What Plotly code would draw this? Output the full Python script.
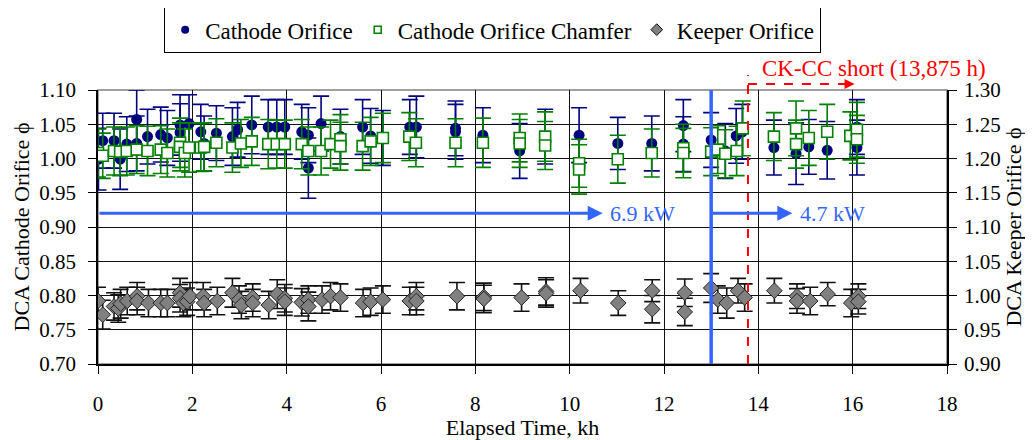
import plotly.graph_objects as go

# ---------------- data ----------------
co_x = [0.01, 0.10, 0.34, 0.47, 0.61, 0.82, 0.82, 1.05, 1.33, 1.47, 1.74, 1.74, 1.93, 2.18, 2.25,
        2.51, 2.85, 2.96, 3.26, 3.61, 3.79, 3.96, 4.32, 4.46, 4.46, 4.73, 5.14, 5.61, 5.78, 6.04,
        6.61, 6.75, 7.58, 7.58, 8.16, 8.94, 9.48, 10.2, 11.02, 11.74, 12.41, 12.41, 13.0, 13.3,
        13.53, 13.66, 14.33, 14.8, 15.07, 15.46, 16.09, 16.09]
co_y = [0.999, 1.026, 1.026, 0.999, 1.021, 1.057, 1.022, 1.032, 1.035, 1.030, 1.049, 1.038, 1.051,
        1.039, 1.022, 1.037, 1.032, 1.042, 1.049, 1.046, 1.046, 1.046, 1.039, 1.034, 0.986, 1.051,
        1.032, 1.046, 1.033, 1.030, 1.046, 1.046, 1.044, 1.039, 1.034, 1.011, 1.032, 1.034, 1.022,
        1.022, 1.048, 1.021, 1.027, 1.011, 1.033, 1.039, 1.016, 1.007, 1.017, 1.012, 1.046, 1.016]
co_e = [0.045, 0.040, 0.040, 0.044, 0.040, 0.043, 0.040, 0.040, 0.040, 0.040, 0.044, 0.042, 0.042,
        0.040, 0.040, 0.040, 0.042, 0.040, 0.042, 0.040, 0.040, 0.040, 0.040, 0.040, 0.044, 0.040,
        0.040, 0.040, 0.040, 0.040, 0.040, 0.045, 0.040, 0.040, 0.040, 0.040, 0.040, 0.040, 0.038,
        0.040, 0.038, 0.040, 0.040, 0.040, 0.040, 0.040, 0.040, 0.045, 0.040, 0.042, 0.040, 0.040]

ch_x = [0.00, 0.10, 0.34, 0.47, 0.61, 0.82, 1.05, 1.33, 1.47, 1.74, 1.74, 1.84, 1.93, 2.18, 2.25,
        2.51, 2.85, 3.03, 3.26, 3.61, 3.79, 3.96, 4.32, 4.46, 4.73, 4.93, 5.14, 5.14, 5.61, 5.78,
        6.04, 6.60, 6.74, 7.58, 8.16, 8.94, 8.94, 9.48, 9.48, 10.2, 10.2, 11.02, 11.74, 12.41,
        12.41, 13.0, 13.14, 13.3, 13.54, 13.67, 14.33, 14.8, 14.8, 15.07, 15.46, 15.95, 16.09, 16.09]
ch_y = [1.008, 1.004, 1.011, 1.010, 1.011, 1.013, 1.011, 1.013, 1.008, 1.023, 1.017, 1.008, 1.016,
        1.016, 1.017, 1.023, 1.016, 1.022, 1.025, 1.021, 1.021, 1.021, 1.021, 1.011, 1.011, 1.021,
        1.028, 1.018, 1.018, 1.025, 1.030, 1.032, 1.023, 1.023, 1.023, 1.030, 1.022, 1.032, 1.019,
        0.993, 0.984, 0.999, 1.008, 1.015, 1.008, 1.010, 1.013, 1.007, 1.011, 1.044, 1.032, 1.044,
        1.021, 1.030, 1.039, 1.033, 1.042, 1.028]
ch_e = [0.035, 0.033, 0.035, 0.035, 0.035, 0.035, 0.036, 0.035, 0.035, 0.036, 0.035, 0.035, 0.036,
        0.035, 0.035, 0.035, 0.036, 0.035, 0.035, 0.036, 0.035, 0.035, 0.036, 0.035, 0.035, 0.035,
        0.036, 0.035, 0.035, 0.035, 0.036, 0.035, 0.035, 0.035, 0.036, 0.035, 0.035, 0.036, 0.035,
        0.035, 0.036, 0.035, 0.035, 0.035, 0.036, 0.035, 0.035, 0.035, 0.036, 0.040, 0.035, 0.040,
        0.035, 0.040, 0.040, 0.035, 0.040, 0.035]

kp_x = [0.00, 0.10, 0.34, 0.43, 0.48, 0.62, 0.83, 0.83, 1.07, 1.33, 1.47, 1.74, 1.74, 1.81, 1.89,
        1.95, 2.23, 2.25, 2.53, 2.85, 2.99, 3.04, 3.28, 3.28, 3.62, 3.80, 3.96, 3.96, 4.32, 4.46,
        4.46, 4.75, 4.93, 5.14, 5.62, 5.78, 6.04, 6.61, 6.75, 6.75, 7.61, 8.18, 8.18, 8.98, 9.50,
        9.50, 10.23, 11.03, 11.75, 11.75, 12.44, 12.44, 13.0, 13.14, 13.33, 13.57, 13.71, 14.34,
        14.82, 14.82, 15.1, 15.47, 15.97, 16.12, 16.12]
kp_y = [0.992, 0.972, 0.984, 0.981, 0.988, 0.992, 0.999, 0.992, 0.989, 0.989, 0.989, 1.004, 0.996,
        0.989, 0.991, 0.999, 0.999, 0.989, 0.992, 1.004, 0.994, 0.986, 0.997, 0.989, 0.986, 1.002,
        0.996, 0.991, 0.990, 0.994, 0.984, 0.994, 0.999, 0.997, 0.989, 0.991, 0.994, 0.992, 0.999,
        0.992, 0.999, 0.998, 0.995, 0.997, 1.006, 1.003, 1.007, 0.989, 1.007, 0.980, 1.004, 0.976,
        1.011, 0.994, 0.989, 1.007, 0.997, 1.007, 0.999, 0.992, 0.992, 1.002, 0.989, 0.999, 0.991]
kp_e = [0.020, 0.021, 0.020, 0.020, 0.021, 0.020, 0.020, 0.020, 0.020, 0.020, 0.020,
        0.021, 0.020, 0.020, 0.020, 0.020, 0.020, 0.020, 0.020, 0.021, 0.020, 0.020, 0.020, 0.020,
        0.020, 0.021, 0.020, 0.020, 0.020, 0.020, 0.021, 0.020, 0.020, 0.020, 0.020, 0.020, 0.020,
        0.020, 0.020, 0.020, 0.020, 0.020, 0.020, 0.020, 0.020, 0.020, 0.018, 0.018, 0.016, 0.020,
        0.020, 0.020, 0.021, 0.020, 0.022, 0.018, 0.020, 0.018, 0.018, 0.018, 0.020, 0.017, 0.020,
        0.018, 0.018]

x_ticks = [0, 2, 4, 6, 8, 10, 12, 14, 16, 18]
yl_ticks = [0.70, 0.75, 0.80, 0.85, 0.90, 0.95, 1.00, 1.05, 1.10]
yr_ticks = [0.90, 0.95, 1.00, 1.05, 1.10, 1.15, 1.20, 1.25, 1.30]

power_y = 0.92
power_switch = 13.0
arrow1_end = 10.7
arrow2_end = 14.72
short_x = 13.78
short_arrow_end = 16.04

FONT = "Liberation Serif, Times New Roman, serif"
NAVY = "#000080"
GREEN = "#008000"
GRAY = "#808080"
BLUE = "#3366FF"
RED = "#FF0000"

fig = go.Figure()

fig.add_trace(go.Scatter(
    x=co_x, y=co_y, mode="markers", name="Cathode Orifice", showlegend=False,
    marker=dict(symbol="circle", size=11, color=NAVY, line=dict(width=0)),
    error_y=dict(type="data", array=co_e, color=NAVY, thickness=1.6, width=8),
))
fig.add_trace(go.Scatter(
    x=ch_x, y=ch_y, mode="markers", name="Cathode Orifice Chamfer", showlegend=False,
    marker=dict(symbol="square", size=11, color="white", line=dict(width=1.6, color=GREEN)),
    error_y=dict(type="data", array=ch_e, color=GREEN, thickness=1.6, width=8),
))
fig.add_trace(go.Scatter(
    x=kp_x, y=kp_y, mode="markers", name="Keeper Orifice", yaxis="y2", showlegend=False,
    marker=dict(symbol="diamond", size=12, color=GRAY, line=dict(width=1, color="#222222")),
    error_y=dict(type="data", array=kp_e, color="#111111", thickness=1.6, width=8),
))

# legend entries (small symbols as in the original legend)
legend_names = ["Cathode Orifice", "Cathode Orifice Chamfer", "Keeper Orifice"]
legend_markers = [
    dict(symbol="circle", size=8, color=NAVY),
    dict(symbol="square", size=7, color="white", line=dict(width=1.5, color=GREEN)),
    dict(symbol="diamond", size=9, color=GRAY, line=dict(width=1, color="#111111")),
]
for nm, mk in zip(legend_names, legend_markers):
    fig.add_trace(go.Scatter(x=[None], y=[None], mode="markers", name=nm, marker=mk,
                             showlegend=True))

# plot-area frame (gray) like the original
fig.add_shape(type="rect", xref="paper", yref="paper", x0=0, x1=1, y0=0, y1=1,
              line=dict(color=GRAY, width=1.5), layer="below")

# blue vertical line at power change
fig.add_shape(type="line", xref="x", yref="paper", x0=power_switch, x1=power_switch, y0=0, y1=1.0,
              line=dict(color=BLUE, width=3.5))
# red dashed short line
fig.add_shape(type="line", xref="x", yref="paper", x0=short_x, x1=short_x, y0=0, y1=1.055,
              line=dict(color=RED, width=2, dash="dash"))
fig.add_shape(type="line", xref="x", yref="paper", x0=short_x, x1=short_arrow_end - 0.2,
              y0=1.022, y1=1.022, line=dict(color=RED, width=2, dash="dash"))
fig.add_annotation(x=short_arrow_end, y=1.022, xref="x", yref="paper",
                   ax=-14, ay=0, axref="pixel", ayref="pixel",
                   showarrow=True, arrowhead=2, arrowsize=1, arrowwidth=2, arrowcolor=RED, text="")
fig.add_annotation(x=14.03, y=1.08, xref="x", yref="paper", text="CK-CC short (13,875 h)",
                   showarrow=False, xanchor="left", yanchor="middle",
                   font=dict(family=FONT, size=23, color=RED))

# blue power arrows
fig.add_annotation(x=arrow1_end, y=power_y, xref="x", yref="y", ax=0, ay=power_y,
                   axref="x", ayref="y", showarrow=True, arrowhead=2, arrowsize=1,
                   arrowwidth=3, arrowcolor=BLUE, text="")
fig.add_annotation(x=arrow1_end + 0.12, y=power_y, xref="x", yref="y", text="6.9 kW",
                   showarrow=False, xanchor="left", yanchor="middle",
                   font=dict(family=FONT, size=22, color=BLUE))
fig.add_annotation(x=arrow2_end, y=power_y, xref="x", yref="y", ax=power_switch, ay=power_y,
                   axref="x", ayref="y", showarrow=True, arrowhead=2, arrowsize=1,
                   arrowwidth=3, arrowcolor=BLUE, text="")
fig.add_annotation(x=arrow2_end + 0.12, y=power_y, xref="x", yref="y", text="4.7 kW",
                   showarrow=False, xanchor="left", yanchor="middle",
                   font=dict(family=FONT, size=22, color=BLUE))

tick_font = dict(family=FONT, size=21, color="black")
title_font = dict(family=FONT, size=22, color="black")

fig.update_layout(
    width=1025, height=432,
    margin=dict(l=90, r=86, t=82, b=76, autoexpand=False),
    paper_bgcolor="white", plot_bgcolor="white",
    font=dict(family=FONT, size=21, color="black"),
    showlegend=True,
    legend=dict(orientation="h", x=0.0777, xanchor="left", y=1.303, yanchor="top",
                bordercolor="black", borderwidth=1.2, bgcolor="white",
                font=dict(family=FONT, size=23, color="black")),
    xaxis=dict(range=[0, 18], tickvals=x_ticks, ticktext=[str(v) for v in x_ticks],
               showgrid=True, gridcolor="#111111", gridwidth=1,
               showline=True, linecolor="black", linewidth=1.5,
               ticks="outside", ticklen=8, tickcolor="black", ticklabelstandoff=12,
               tickfont=tick_font, zeroline=False, automargin=False,
               title=dict(text="Elapsed Time, kh", font=title_font, standoff=0)),
    yaxis=dict(range=[0.70, 1.10], tickvals=yl_ticks, ticktext=[f"{v:.2f}" for v in yl_ticks],
               showgrid=True, gridcolor="#111111", gridwidth=1,
               showline=True, linecolor="black", linewidth=1.5,
               ticks="outside", ticklen=8, tickcolor="black", ticklabelstandoff=8,
               tickfont=tick_font, zeroline=False, automargin=False,
               title=dict(text="DCA Cathode Orifice ϕ", font=title_font, standoff=4)),
    yaxis2=dict(range=[0.90, 1.30], tickvals=yr_ticks, ticktext=[f"{v:.2f}" for v in yr_ticks],
                overlaying="y", side="right", showgrid=False,
                showline=True, linecolor="black", linewidth=1.5,
                ticks="outside", ticklen=8, tickcolor="black", ticklabelstandoff=3,
                tickfont=tick_font, zeroline=False, automargin=False,
                title=dict(text="DCA Keeper Orifice ϕ", font=title_font, standoff=4)),
)

fig.write_html("out.html")
